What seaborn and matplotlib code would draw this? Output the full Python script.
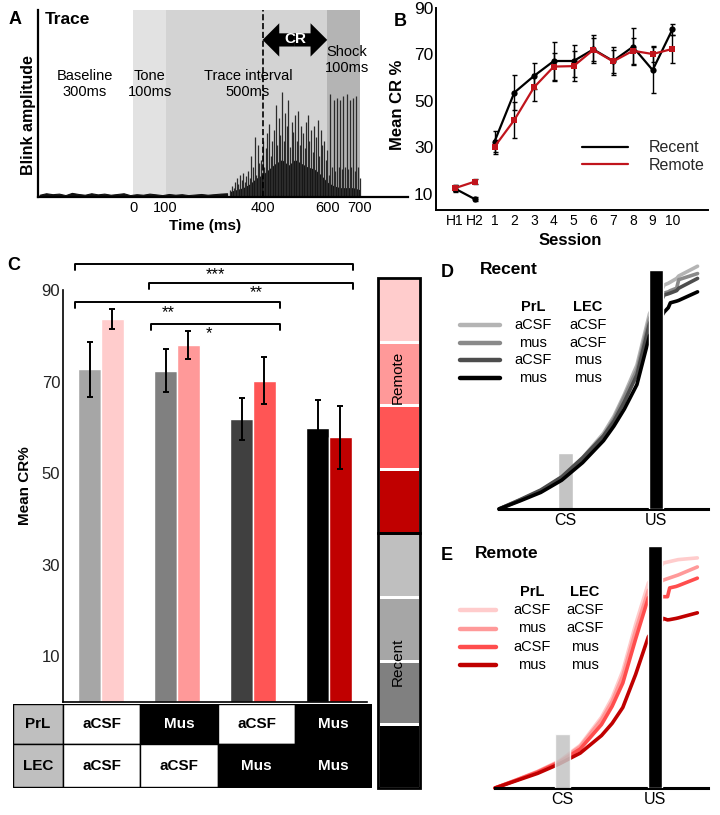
import numpy as np
import pandas as pd
import matplotlib
matplotlib.use('Agg')
import matplotlib.pyplot as plt
import seaborn as sns
from matplotlib.patches import Rectangle
from matplotlib.lines import Line2D
from matplotlib.colors import ListedColormap

sns.set_theme(style='white')
plt.rcParams['font.family'] = ['Liberation Sans', 'DejaVu Sans']
BLK = '#000000'  # seaborn remaps 'k' to dark gray

# ---------------- data ----------------
# A: blink trace (amplitude, 0-1 of axis height)
base_ms = list(range(-290, 300, 20))
base_amp = [0.012, 0.02, 0.015, 0.018, 0.01, 0.022, 0.016, 0.012, 0.02, 0.014,
            0.018, 0.012, 0.016, 0.02, 0.01, 0.015, 0.012, 0.018, 0.014, 0.01,
            0.016, 0.012, 0.015, 0.01, 0.013, 0.016, 0.012, 0.015, 0.018, 0.02]
spike_ms = list(range(300, 705, 5))
spike_amp = [0.04, 0.06, 0.05, 0.08, 0.10, 0.07, 0.12, 0.09, 0.13, 0.08,
             0.11, 0.14, 0.10, 0.22, 0.16, 0.32, 0.12, 0.28, 0.18, 0.20,
             0.30, 0.16, 0.26, 0.34, 0.39, 0.22, 0.30, 0.36, 0.49, 0.28,
             0.42, 0.33, 0.56, 0.30, 0.45, 0.38, 0.52, 0.27, 0.40, 0.35,
             0.44, 0.30, 0.46, 0.28, 0.38, 0.34, 0.26, 0.40, 0.44, 0.30,
             0.36, 0.24, 0.38, 0.32, 0.41, 0.22, 0.36, 0.28, 0.30, 0.20,
             0.25, 0.12, 0.55, 0.16, 0.52, 0.14, 0.53, 0.16, 0.52, 0.15,
             0.54, 0.16, 0.55, 0.15, 0.52, 0.16, 0.53, 0.14, 0.54, 0.16, 0.10]
floor_ms = list(range(300, 720, 20))
floor_amp = [0.03, 0.04, 0.05, 0.07, 0.10, 0.12, 0.15, 0.18, 0.20, 0.17, 0.20,
             0.18, 0.16, 0.15, 0.12, 0.08, 0.06, 0.05, 0.05, 0.05, 0.04]
phase_names = ['Baseline\n300ms', 'Tone\n100ms', 'Trace interval\n500ms', 'Shock\n100ms']

# B: acquisition curve
sessions = ['H1', 'H2', '1', '2', '3', '4', '5', '6', '7', '8', '9', '10']
blocks = ['hab', 'hab'] + ['train'] * 10
recent_b = [12.3, 7.8, 32.5, 53.6, 60.8, 67.2, 67.2, 72.2, 67.2, 73.3, 63.3, 80.8]
remote_b = [12.5, 15.3, 30.3, 41.8, 55.9, 64.8, 65.0, 72.0, 67.0, 71.6, 70.2, 72.4]
recent_b_err = [1.5, 0.8, 4.5, 7.5, 5.7, 8.0, 7.0, 6.0, 6.0, 7.9, 9.9, 2.5]
remote_b_err = [1.2, 1.0, 3.0, 7.9, 5.7, 6.0, 6.5, 5.0, 5.0, 5.5, 3.5, 6.0]

# C: retrieval CR%
cond = ['aCSF/aCSF', 'Mus/aCSF', 'aCSF/Mus', 'Mus/Mus']
recent_cr = [72.7, 72.4, 61.8, 59.8]
remote_cr = [83.6, 78.0, 70.2, 57.8]
recent_sem = [6.0, 4.7, 4.6, 6.2]
remote_sem = [2.2, 3.0, 5.1, 6.8]
recent_cols = ['#a6a6a6', '#808080', '#404040', '#000000']
remote_cols = ['#ffcccc', '#ff9999', '#ff5555', '#c00000']
prl_tab = ['aCSF', 'Mus', 'aCSF', 'Mus']
lec_tab = ['aCSF', 'aCSF', 'Mus', 'Mus']
sig_pairs = [(-0.34, 3.32, 95.6, '***', 1.5), (0.63, 3.32, 91.6, '**', 2.04),
             (-0.34, 2.36, 87.3, '**', 0.89), (0.66, 2.36, 82.6, '*', 1.42)]
bar_key_cols = ['#ffcccc', '#ff9999', '#ff5555', '#c00000',
                '#bfbfbf', '#a6a6a6', '#808080', '#000000']

# D/E: schematic CR topography
time_pts = [0, 10, 20, 30, 40, 50, 55, 60, 66, 72, 79, 81, 82, 85, 86, 95]
recent_curves = [
    [0, 3.6, 7.5, 13, 21, 31, 38, 47, 59, 80, 91.8, 92.5, 93, 94.5, 95.5, 99.5],
    [0, 3.6, 7.4, 12.8, 20.5, 30, 37, 46, 57, 78, 88.5, 89, 89.5, 90.5, 94, 96.5],
    [0, 3.8, 7.8, 13.2, 21, 30, 36, 44, 55, 76, 87.7, 88.2, 88.5, 89.5, 90.5, 94.5],
    [0, 3.3, 6.8, 11.8, 19, 28, 34, 41, 51, 71, 80.7, 82.5, 84.5, 85.2, 85.5, 89],
]
remote_curves = [
    [0, 3.3, 6.8, 11, 17.5, 29, 37, 48, 67, 84, 92.2, 92.6, 92.8, 93.4, 93.6, 94.3],
    [0, 3.3, 6.7, 10.8, 17, 28, 35.5, 46, 64.5, 81, 85.2, 85.8, 86.1, 87, 87.3, 90.6],
    [0, 3.2, 6.5, 10.5, 16, 26, 33.5, 43, 61, 78, 78.4, 78.4, 82, 82.6, 82.9, 86],
    [0, 3, 6, 9.8, 14.3, 21.5, 26.5, 33, 46.5, 62, 69.5, 68.9, 69, 69.5, 69.7, 71.8],
]
recent_line_cols = ['#b4b4b4', '#8a8a8a', '#4d4d4d', '#000000']
remote_line_cols = ['#ffcccc', '#ff9999', '#ff4d4d', '#c00000']
prl_leg = ['aCSF', 'mus', 'aCSF', 'mus']
lec_leg = ['aCSF', 'aCSF', 'mus', 'mus']
stim_labels = ['CS', 'US']
stim_pos = [31.8, 75.0]
stim_width = [7.2, 6.8]
stim_height_d = [23, 98]
stim_height_e = [22, 99]

# ---------------- layout helpers (pixels -> figure fraction) ----------------
W, H = 720, 815
fig = plt.figure(figsize=(W / 100, H / 100), dpi=100)


def box(x0, y0, x1, y1):
    return [x0 / W, 1 - y1 / H, (x1 - x0) / W, (y1 - y0) / H]


def ftext(x, y, s, **kw):
    kw.setdefault('ha', 'center')
    kw.setdefault('va', 'center')
    kw.setdefault('color', BLK)
    return fig.text(x / W, 1 - y / H, s, **kw)


def fline(x0, x1, y, **kw):
    fig.add_artist(Line2D([x0 / W, x1 / W], [1 - y / H, 1 - y / H],
                          transform=fig.transFigure, **kw))


def black_spines(ax, lw):
    for s in ['left', 'bottom']:
        ax.spines[s].set_color(BLK)
        ax.spines[s].set_linewidth(lw)


# ---------------- A ----------------
axA = fig.add_axes(box(38, 10, 408, 197))
axA.set_xlim(-295, 850)
axA.set_ylim(0, 1)
axA.axvspan(0, 100, color='#e2e2e2', lw=0)
axA.axvspan(100, 600, color='#d3d3d3', lw=0)
axA.axvspan(600, 700, color='#b4b4b4', lw=0)
axA.fill_between(base_ms, 0, base_amp, color='#111111', lw=0.8)
axA.fill_between(floor_ms, 0, floor_amp, color='#111111', lw=0)
axA.vlines(spike_ms, 0, spike_amp, color='#2b2b2b', lw=0.9)
axA.axvline(400, color=BLK, ls='--', lw=1.2)
for end in (400, 600):
    axA.annotate('', xy=(end, 0.84), xytext=(500, 0.84),
                 arrowprops=dict(arrowstyle='simple,head_length=1.2,head_width=2.4,tail_width=0.95',
                                 mutation_scale=10, fc=BLK, ec=BLK, lw=0,
                                 shrinkA=0, shrinkB=0))
axA.text(500, 0.845, 'CR', ha='center', va='center', color='w', fontsize=11,
         fontweight='bold', zorder=5)
axA.set_xticks([0, 100, 400, 600, 700])
axA.set_yticks([])
axA.tick_params(axis='x', length=0, labelsize=10.5, pad=3, labelcolor=BLK)
sns.despine(ax=axA)
black_spines(axA, 1.6)
ftext(15, 20, 'A', fontsize=13, fontweight='bold')
ftext(45, 20, 'Trace', fontsize=12.5, fontweight='bold', ha='left')
for name, (px, py) in zip(phase_names, [(85, 84), (150, 84), (248, 84), (347, 60)]):
    ftext(px, py, name, fontsize=10.5, linespacing=1.15)
ftext(28, 115, 'Blink amplitude', fontsize=11.5, fontweight='bold', rotation=90)
ftext(205, 226, 'Time (ms)', fontsize=11, fontweight='bold')

# ---------------- B ----------------
axB = fig.add_axes(box(436, 8, 708, 210))
df_b = pd.DataFrame({
    'pos': list(range(len(sessions))) * 2,
    'cr': recent_b + remote_b,
    'err': recent_b_err + remote_b_err,
    'memory': ['Recent'] * len(sessions) + ['Remote'] * len(sessions),
    'block': blocks * 2,
})
b_cols = {'Recent': '#000000', 'Remote': '#c0141c'}
sns.lineplot(data=df_b, x='pos', y='cr', hue='memory', units='block', estimator=None,
             palette=b_cols, style='memory', markers={'Recent': 'o', 'Remote': 's'},
             dashes=False, markersize=4.5, markeredgewidth=0, lw=1.6, legend=False, ax=axB)
for mem, sub in df_b.groupby('memory'):
    axB.errorbar(sub['pos'], sub['cr'], yerr=sub['err'], fmt='none', ecolor=BLK,
                 elinewidth=1, capsize=1.8, capthick=1, zorder=1)
axB.set_xlim(-0.96, 12.8)
axB.set_ylim(3.1, 90)
axB.set_xticks(range(len(sessions)))
axB.set_xticklabels(sessions)
axB.set_yticks([10, 30, 50, 70, 90])
axB.tick_params(axis='x', length=0, labelsize=10, pad=3, labelcolor=BLK)
axB.tick_params(axis='y', length=0, labelsize=12.5, pad=2, labelcolor=BLK)
axB.set_xlabel('')
axB.set_ylabel('')
sns.despine(ax=axB)
black_spines(axB, 1.4)
axB.legend(handles=[Line2D([], [], color=b_cols[m], lw=1.6) for m in ['Recent', 'Remote']],
           labels=['Recent', 'Remote'], frameon=False, loc='center left',
           bbox_to_anchor=(0.537, 0.265), borderaxespad=0, borderpad=0,
           handlelength=2.9, handletextpad=1.3, labelspacing=0.15, fontsize=11.5)
ftext(400, 21, 'B', fontsize=13, fontweight='bold')
ftext(397, 105, 'Mean CR %', fontsize=12, fontweight='bold', rotation=90)
ftext(570, 240, 'Session', fontsize=12, fontweight='bold')

# ---------------- C ----------------
axC = fig.add_axes(box(63, 290, 367, 702))
df_c = pd.DataFrame({'cond': cond * 2,
                     'memory': ['Recent'] * 4 + ['Remote'] * 4,
                     'cr': recent_cr + remote_cr,
                     'sem': recent_sem + remote_sem})
sns.barplot(data=df_c, x='cond', y='cr', hue='memory', width=0.6, errorbar=None,
            edgecolor='white', linewidth=1, legend=False, ax=axC)
for p, c in zip(axC.patches, recent_cols + remote_cols):
    p.set_facecolor(c)
centers = [p.get_x() + p.get_width() / 2 for p in axC.patches]
axC.errorbar(centers, df_c['cr'], yerr=df_c['sem'], fmt='none', ecolor=BLK,
             elinewidth=1.4, capsize=2.5, capthick=1.4)
axC.set_xlim(-0.5, 3.5)
axC.set_ylim(0, 90)
axC.set_yticks([10, 30, 50, 70, 90])
axC.set_xticks([])
axC.set_xlabel('')
axC.set_ylabel('')
axC.tick_params(axis='y', direction='in', length=3, labelsize=12, pad=2, labelcolor='#222222')
sns.despine(ax=axC)
black_spines(axC, 1.2)
for x0, x1, yb, stars, xs in sig_pairs:
    axC.plot([x0, x0, x1, x1], [yb - 1.3, yb, yb, yb - 1.3], color=BLK, lw=1.4, clip_on=False)
    axC.text(xs, yb - 0.6, stars, ha='center', va='top', fontsize=12, color=BLK, clip_on=False)
ftext(14, 265, 'C', fontsize=13, fontweight='bold')
ftext(25, 486, 'Mean CR%', fontsize=11, fontweight='bold', rotation=90)

# table under C
axT = fig.add_axes(box(13, 704, 372, 788))
axT.set_xlim(13, 372)
axT.set_ylim(788, 704)
axT.axis('off')
col_x = [63, 140, 218, 295, 371]
row_y = [704, 744, 787]
for r, (lab, vals) in enumerate(zip(['PrL', 'LEC'], [prl_tab, lec_tab])):
    y0, y1 = row_y[r], row_y[r + 1]
    axT.add_patch(Rectangle((13, y0), 50, y1 - y0, fc='#bfbfbf', ec=BLK, lw=1))
    axT.text(38, (y0 + y1) / 2, lab, ha='center', va='center', fontsize=11,
             fontweight='bold', color=BLK)
    for i, v in enumerate(vals):
        dark = v == 'Mus'
        axT.add_patch(Rectangle((col_x[i], y0), col_x[i + 1] - col_x[i], y1 - y0,
                                fc=BLK if dark else 'w', ec=BLK, lw=1))
        axT.text((col_x[i] + col_x[i + 1]) / 2, (y0 + y1) / 2, v, ha='center', va='center',
                 fontsize=11, fontweight='bold', color='w' if dark else BLK)

# colour key
axK = fig.add_axes(box(378, 278, 420, 788))
sns.heatmap(np.arange(len(bar_key_cols)).reshape(-1, 1), cmap=ListedColormap(bar_key_cols),
            cbar=False, linewidths=1, linecolor='white', xticklabels=False, yticklabels=False, ax=axK)
axK.add_patch(Rectangle((0, 0), 1, 4, fill=False, ec=BLK, lw=2, clip_on=False))
axK.add_patch(Rectangle((0, 4), 1, 4, fill=False, ec=BLK, lw=2, clip_on=False))
ftext(398, 377, 'Remote', fontsize=11, rotation=90)
ftext(398, 662, 'Recent', fontsize=11, rotation=90)


# ---------------- D / E ----------------
def topo(rect, curves, cols, heights, letter, title, lpos, title_y, leg, cs_front):
    ax = fig.add_axes(rect)
    df = pd.DataFrame({'t': time_pts * len(curves),
                       'v': sum(curves, []),
                       'cond': sum([[i] * len(time_pts) for i in range(len(curves))], [])})
    ax.bar(stim_pos[0], heights[0], width=stim_width[0], color='#c4c4c4',
           alpha=0.85 if cs_front else 1, zorder=4 if cs_front else 1)
    sns.lineplot(data=df, x='t', y='v', hue='cond', palette=cols, lw=2.6,
                 legend=False, ax=ax, zorder=2)
    ax.bar(stim_pos[1], heights[1], width=stim_width[1], color=BLK, zorder=3)
    ax.set_xlim(0, 100)
    ax.set_ylim(0, 100)
    ax.set_xticks(stim_pos)
    ax.set_xticklabels(stim_labels)
    ax.set_yticks([])
    ax.set_xlabel('')
    ax.set_ylabel('')
    ax.tick_params(axis='x', length=0, labelsize=11.5, pad=3, labelcolor=BLK)
    sns.despine(ax=ax, left=True)
    ax.spines['bottom'].set_color(BLK)
    ax.spines['bottom'].set_linewidth(2.2)
    for ln in ax.lines:
        ln.set_clip_on(False)
    ftext(447, title_y + 2, letter, fontsize=13, fontweight='bold')
    ftext(lpos, title_y, title, fontsize=12.5, fontweight='bold', ha='left')
    hy, rows, c1, c2, lx1 = leg
    ftext(c1, hy, 'PrL', fontsize=10.5, fontweight='bold')
    ftext(c2, hy, 'LEC', fontsize=10.5, fontweight='bold')
    for y, a, b, c in zip(rows, prl_leg, lec_leg, cols):
        fline(460, lx1, y, color=c, lw=3.2)
        ftext(c1, y, a, fontsize=10.5)
        ftext(c2, y, b, fontsize=10.5)
    return ax


topo(box(499, 265, 708, 509), recent_curves, recent_line_cols, stim_height_d, 'D', 'Recent',
     480, 270, (307, [325, 343, 360, 378], 533, 588, 500), False)
topo(box(495, 544, 708, 788), remote_curves, remote_line_cols, stim_height_e, 'E', 'Remote',
     475, 553, (592, [610, 628.5, 647, 665], 532, 585, 496), True)

fig.savefig('out.png', dpi=100)
